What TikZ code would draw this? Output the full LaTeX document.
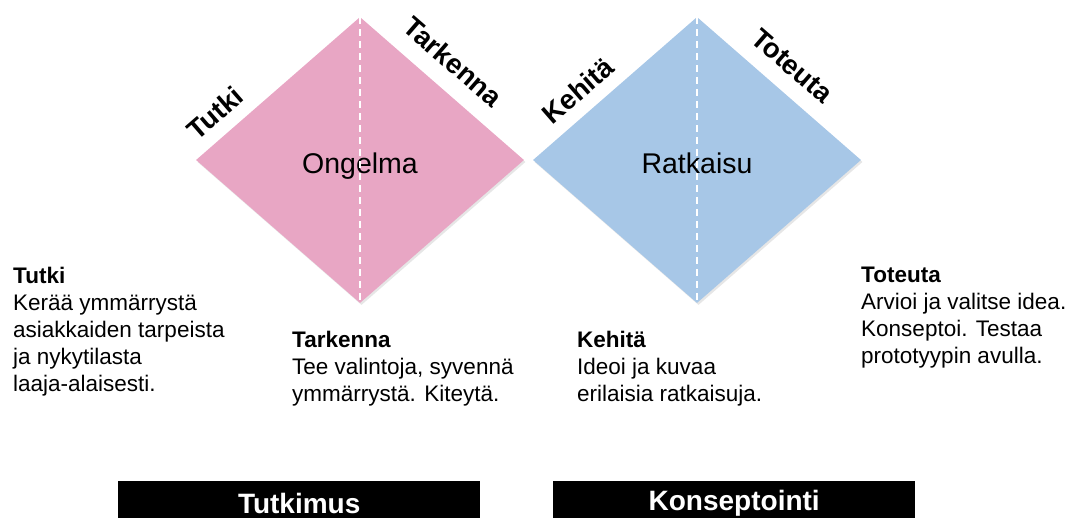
\documentclass[tikz,border=0pt]{standalone}
\usepackage{fontspec}
\setmainfont{Liberation Sans}
\usetikzlibrary{shapes.geometric,shadows}
\definecolor{ongelmapink}{HTML}{E8A6C4}
\definecolor{ratkaisublue}{HTML}{A7C7E7}
\tikzset{
  phase/.style={diamond, minimum width=328pt, minimum height=286pt, inner sep=0pt,
    font=\fontsize{28.5}{30}\selectfont, text height=27pt, text depth=0pt,
    drop shadow={opacity=0.2, shadow xshift=1.5pt, shadow yshift=-2pt}},
  midline/.style={white, line width=1.2pt, dash pattern=on 7pt off 5pt},
  edgelabel/.style={font=\bfseries\fontsize{27.5}{30}\selectfont, inner sep=0pt},
  stepinfo/.style={anchor=north west, align=left, inner sep=0pt,
    font=\fontsize{22.5}{27}\selectfont},
  phasebar/.style={fill=black, text=white, font=\bfseries\fontsize{28}{32}\selectfont,
    minimum width=362pt, minimum height=44pt, inner sep=0pt, anchor=north west}
}
\begin{document}
\begin{tikzpicture}[x=1pt, y=-1pt]
            \useasboundingbox (0, 0) rectangle (1075, 518);
            % diamonds
            \node [phase, fill=ongelmapink] (ongelma) at (360, 160) {Ongelma};
            \node [phase, fill=ratkaisublue] (ratkaisu) at (697, 160) {Ratkaisu};
            \draw [midline] (ongelma.north) -- (ongelma.south);
            \draw [midline] (ratkaisu.north) -- (ratkaisu.south);
            % labels on the edges
            \node [edgelabel, rotate=41] (tutkiedge) at (215, 113) {Tutki};
            \node [edgelabel, rotate=-41] (tarkennaedge) at (453, 62) {Tarkenna};
            \node [edgelabel, rotate=41] (kehitaedge) at (578, 91) {Kehitä};
            \node [edgelabel, rotate=-41] (toteutaedge) at (792, 66) {Toteuta};
            % descriptions
            \node [stepinfo] (tutki) at (13, 267)
                {\textbf{Tutki}\\Kerää ymmärrystä\\asiakkaiden tarpeista\\ja nykytilasta\\laaja-alaisesti.};
            \node [stepinfo] (tarkenna) at (292, 331)
                {\textbf{Tarkenna}\\Tee valintoja, syvennä\\ymmärrystä. Kiteytä.};
            \node [stepinfo] (kehita) at (577, 331)
                {\textbf{Kehitä}\\Ideoi ja kuvaa\\erilaisia ratkaisuja.};
            \node [stepinfo] (toteuta) at (861, 267)
                {\textbf{Toteuta}\\Arvioi ja valitse idea.\\Konseptoi. Testaa\\prototyypin avulla.};
            % phase bars
            \node [phasebar] (tutkimus) at (118, 481) {Tutkimus};
            \node [phasebar] (konseptointi) at (553, 481) {Konseptointi};
        \end{tikzpicture}
\end{document}
